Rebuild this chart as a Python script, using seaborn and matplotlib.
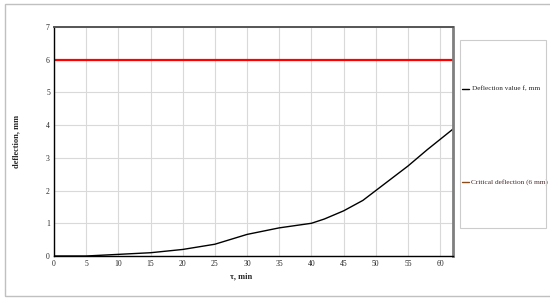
import numpy as np
import pandas as pd
import seaborn as sns
import matplotlib
matplotlib.use('Agg')
import matplotlib.pyplot as plt
from matplotlib.lines import Line2D
from matplotlib.patches import Rectangle

# data
t_min = [0, 5, 10, 15, 20, 25, 30, 35, 40, 42, 45, 48, 50, 52, 55, 58, 62]
deflection = [0, 0, 0.05, 0.1, 0.2, 0.36, 0.66, 0.86, 1.0, 1.13, 1.38, 1.7,
              2.0, 2.3, 2.75, 3.25, 3.88]
critical = 6
labels = ['Deflection value f, mm', 'Critical deflection (6 mm)']

sns.set_style('white')
plt.rcParams['font.family'] = ['Liberation Serif', 'DejaVu Serif']

fig = plt.figure(figsize=(5.5, 3.02), dpi=100)
ax = fig.add_axes([54 / 550, 1 - 256 / 302, 399 / 550, 229 / 302])

df = pd.DataFrame({'t': t_min, 'f': deflection})
sns.lineplot(data=df, x='t', y='f', color='black', lw=1.0, ax=ax)
ax.axhline(critical, color='#ff0000', lw=1.6)

ax.set_xlim(0, 62)
ax.set_ylim(0, 7)
ax.set_xticks(range(0, 61, 5))
ax.set_yticks(range(0, 8))
ax.grid(True, color='#d9d9d9', lw=0.8)
ax.tick_params(labelsize=5.5, length=0, pad=3)

for s in ['left', 'bottom']:
    ax.spines[s].set_color('black')
    ax.spines[s].set_linewidth(1.0)
ax.spines['top'].set_color('#555555')
ax.spines['top'].set_linewidth(1.4)
ax.spines['right'].set_color('#7f7f7f')
ax.spines['right'].set_linewidth(2.0)

ax.set_xlabel('τ, min', fontsize=6, fontweight='bold')
ax.xaxis.set_label_coords(0.47, -0.07)
ax.set_ylabel('deflection, mm', fontsize=6, fontweight='bold')
ax.yaxis.set_label_coords(-0.085, 0.5)

# legend box
ax_leg = fig.add_axes([460 / 550, 1 - 228 / 302, 86 / 550, 188 / 302])
ax_leg.axis('off')
fig.patches.append(Rectangle((460 / 550, 1 - 228 / 302), 86 / 550, 188 / 302,
                             transform=fig.transFigure, fill=False,
                             edgecolor='#cccccc', lw=0.8))
ax_leg.add_line(Line2D([0.02, 0.11], [0.74, 0.74], color='black', lw=1))
ax_leg.add_line(Line2D([0.02, 0.11], [0.245, 0.245], color='#8b4a1a', lw=1))
ax_leg.text(0.14, 0.74, labels[0], fontsize=5.2, va='center')
ax_leg.text(0.13, 0.245, labels[1], fontsize=5.2, va='center', color='#4a2a2a')
ax_leg.set_xlim(0, 1)
ax_leg.set_ylim(0, 1)

# outer frame
fig.patches.append(Rectangle((5 / 550, 1 - 296 / 302), 560 / 550, 292 / 302,
                             transform=fig.transFigure, fill=False,
                             edgecolor='#c0c0c0', lw=1.0))

fig.savefig('out.png', dpi=100)
